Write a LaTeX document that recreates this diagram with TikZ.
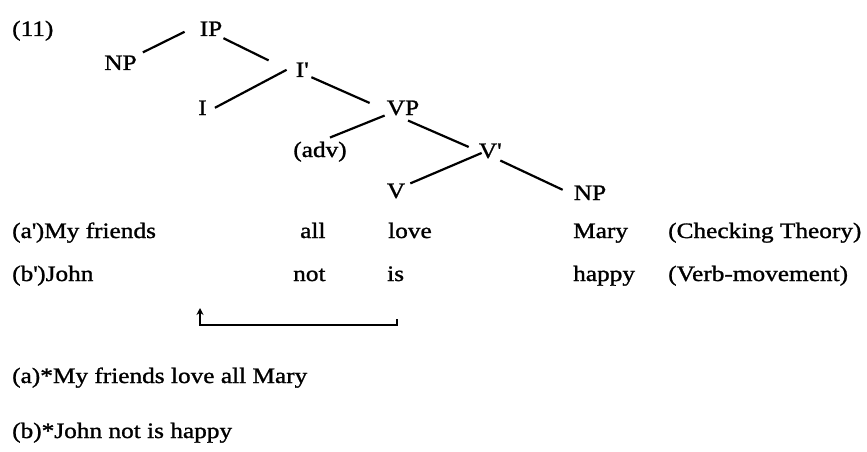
\documentclass[tikz,border=0pt]{standalone}
\usepackage{fontspec}
\setmainfont[FakeStretch=1.15, FakeBold=1.2]{Liberation Serif}
\usepackage{tikz}
\usetikzlibrary{arrows.meta}

\newcommand{\pr}{\textquotesingle}

\begin{document}
\begin{tikzpicture}[
    x=1pt, y=-1pt,
    every node/.style={font=\fontsize{22pt}{26pt}\selectfont},
    cat/.style={inner sep=0pt, anchor=base},
    word/.style={inner sep=0pt, anchor=base west},
    branch/.style={line width=2.2pt},
    arrow/.style={line width=2pt, -{Stealth[length=7pt, width=7pt]}},
]
    \useasboundingbox (0,0) rectangle (867,452);

    \node[word] (ex_num) at (12,36) {(11)};

    % tree
    \node[cat] (ip) at (211,36) {IP};
    \node[cat] (np_subj) at (120.5,70) {NP};
    \node[cat] (ibar) at (302,77) {I\pr};
    \node[cat] (infl) at (202.5,115) {I};
    \node[cat] (vp) at (403,115) {VP};
    \node[cat] (adv) at (320,157) {(adv)};
    \node[cat] (vbar) at (490,158) {V\pr};
    \node[cat] (verb) at (396,198) {V};
    \node[cat] (np_obj) at (590,200) {NP};

    \draw[branch] ([xshift=6pt,yshift=3pt]np_subj.north east) -- ([xshift=-15pt,yshift=-3pt]ip.west);
    \draw[branch] ([xshift=1pt,yshift=-2pt]ip.south east) -- ([xshift=-27pt,yshift=2pt]ibar.north west);
    \draw[branch] ([xshift=-9pt]ibar.west) -- ([xshift=8pt]infl.east);
    \draw[branch] ([xshift=3pt]ibar.south east) -- ([xshift=-17pt,yshift=5pt]vp.west);
    \draw[branch] ([xshift=-2pt]vp.south west) -- ([xshift=10pt,yshift=4pt]adv.north);
    \draw[branch] ([xshift=5pt,yshift=-5pt]vp.south) -- ([xshift=-10pt,yshift=4pt]vbar.west);
    \draw[branch] ([xshift=3pt,yshift=-2pt]vbar.west) -- ([xshift=5pt]verb.north east);
    \draw[branch] ([xshift=-1pt,yshift=-2pt]vbar.south east) -- ([xshift=-11pt,yshift=3pt]np_obj.west);

    % examples under the tree
    \node[word] (a_subj) at (12,238) {(a\pr)My friends};
    \node[word] (a_adv) at (300,238) {all};
    \node[word] (a_verb) at (388,238) {love};
    \node[word] (a_obj) at (573,238) {Mary};
    \node[word] (a_note) at (668,238) {(Checking Theory)};

    \node[word] (b_subj) at (12,281) {(b\pr)John};
    \node[word] (b_adv) at (293,281) {not};
    \node[word] (b_verb) at (387,281) {is};
    \node[word] (b_obj) at (573,281) {happy};
    \node[word] (b_note) at (668,281) {(Verb-movement)};

    % movement of the verb
    \coordinate (mv_from) at (397,319);
    \coordinate (mv_to) at (200,308);
    \draw[arrow] (mv_from) -- ++(0,6) -| (mv_to);

    \node[word] (a_star) at (12,383) {(a)*My friends love all Mary};
    \node[word] (b_star) at (12,438) {(b)*John not is happy};
\end{tikzpicture}
\end{document}
